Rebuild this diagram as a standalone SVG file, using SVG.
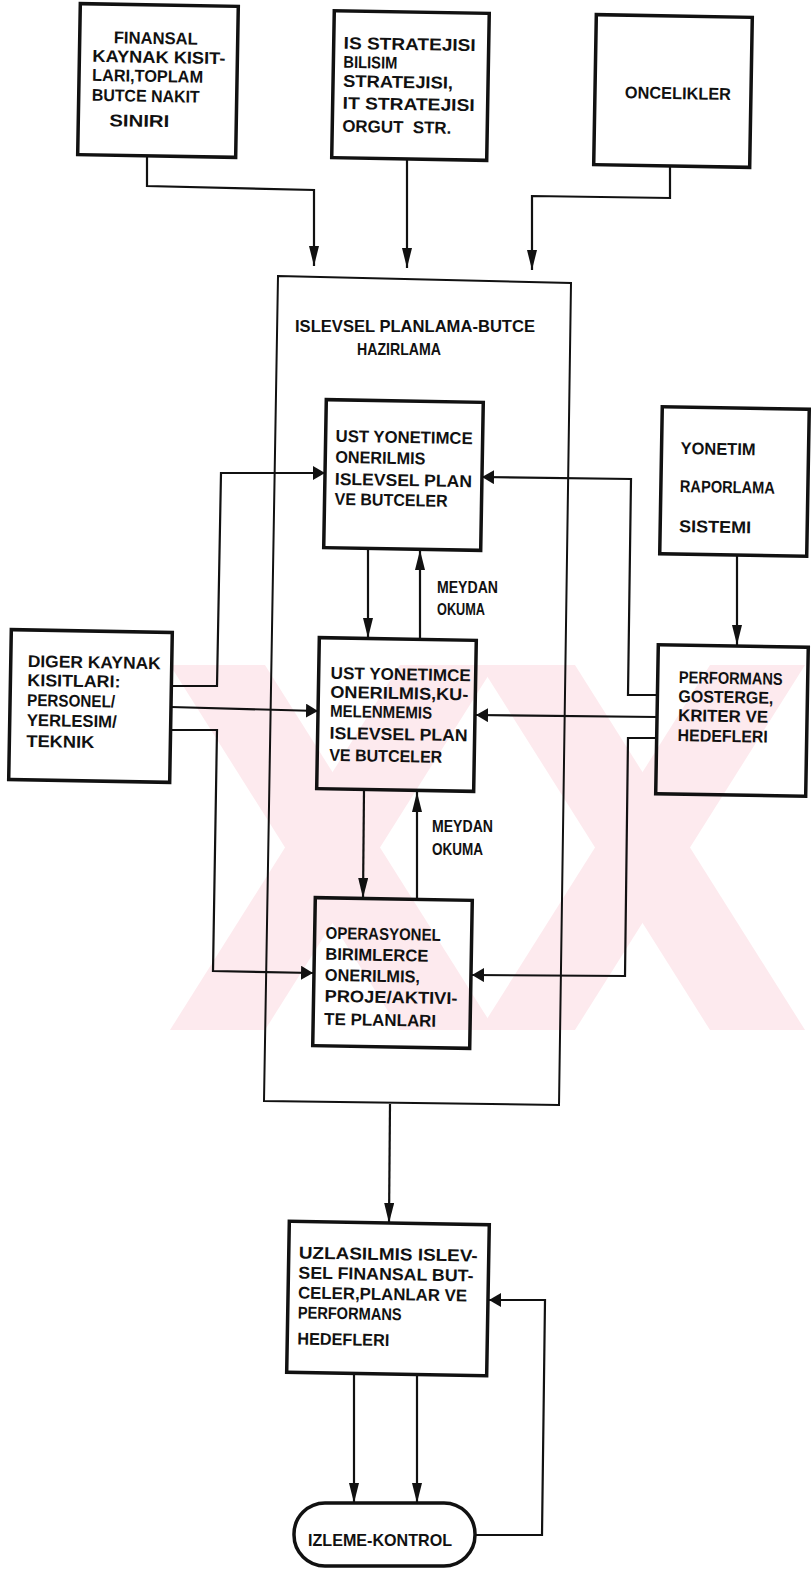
<svg xmlns="http://www.w3.org/2000/svg" width="811" height="1571" viewBox="0 0 811 1571">
<style>
.t{font-family:"Liberation Sans",Arial,sans-serif;font-weight:bold;font-size:17px;fill:#111}
.box{fill:none;stroke:#111;stroke-width:3.5}
.frame{fill:none;stroke:#111;stroke-width:2}
.c{fill:none;stroke:#111;stroke-width:2.2}
.wm{fill:#fdeaee}
</style>
<defs>
<marker id="av" viewBox="0 0 20 10" markerWidth="20" markerHeight="10" refX="20" refY="5" orient="auto" markerUnits="userSpaceOnUse"><path d="M0,0 L20,5 L0,10 Z" fill="#111"/></marker>
<marker id="ah" viewBox="0 0 12 14" markerWidth="12" markerHeight="14" refX="12" refY="7" orient="auto" markerUnits="userSpaceOnUse"><path d="M0,0 L12,7 L0,14 Z" fill="#111"/></marker>
<clipPath id="wmclip"><rect x="168" y="665" width="643" height="365"/></clipPath>
</defs>
<rect width="811" height="1571" fill="#fff"/>
<g id="watermark" clip-path="url(#wmclip)">
<polygon class="wm" points="170,665 265,665 495,1030 400,1030"/>
<polygon class="wm" points="400,665 495,665 265,1030 170,1030"/>
<polygon class="wm" points="480,665 575,665 805,1030 710,1030"/>
<polygon class="wm" points="710,665 805,665 575,1030 480,1030"/>
</g>
<g id="connectors">
<path class="c" d="M147,156 L147,186 L314,190 L314,266" marker-end="url(#av)"/>
<path class="c" d="M407,159 L407,268" marker-end="url(#av)"/>
<path class="c" d="M670,166 L670,198 L532,196 L532,270" marker-end="url(#av)"/>
<path class="c" d="M171,686 L217,686 L221,473 L325,473" marker-end="url(#ah)"/>
<path class="c" d="M171,707 L318,711" marker-end="url(#ah)"/>
<path class="c" d="M171,730 L217,730 L213,971 L313,973" marker-end="url(#ah)"/>
<path class="c" d="M657,695 L628,695 L631,479 L482,477" marker-end="url(#ah)"/>
<path class="c" d="M657,717 L476,715" marker-end="url(#ah)"/>
<path class="c" d="M657,738 L628,738 L625,976 L472,975" marker-end="url(#ah)"/>
<path class="c" d="M737,555 L737,645" marker-end="url(#av)"/>
<path class="c" d="M368,549 L368,638" marker-end="url(#av)"/>
<path class="c" d="M420,641 L420,550" marker-end="url(#av)"/>
<path class="c" d="M364,790 L363,898" marker-end="url(#av)"/>
<path class="c" d="M417,900 L417,792" marker-end="url(#av)"/>
<path class="c" d="M390,1104 L389,1223" marker-end="url(#av)"/>
<path class="c" d="M354,1375 L354,1503" marker-end="url(#av)"/>
<path class="c" d="M417,1375 L417,1503" marker-end="url(#av)"/>
<path class="c" d="M475,1535 L542,1535 L545,1300 L489,1300" marker-end="url(#ah)"/>
</g>
<g id="n-finansal" transform="rotate(1 158 80)">
<rect class="box" x="79" y="5" width="158" height="151"/>
<text class="t" x="113" y="44" textLength="84" lengthAdjust="spacingAndGlyphs">FINANSAL</text>
<text class="t" x="92" y="63" textLength="133" lengthAdjust="spacingAndGlyphs">KAYNAK KISIT-</text>
<text class="t" x="92" y="82" textLength="111" lengthAdjust="spacingAndGlyphs">LARI,TOPLAM</text>
<text class="t" x="92" y="102" textLength="108" lengthAdjust="spacingAndGlyphs">BUTCE NAKIT</text>
<text class="t" x="110" y="127" textLength="60" lengthAdjust="spacingAndGlyphs">SINIRI</text>
</g>
<g id="n-strateji" transform="rotate(1 410 85)">
<rect class="box" x="333" y="12" width="155" height="147"/>
<text class="t" x="343" y="50" textLength="132" lengthAdjust="spacingAndGlyphs">IS STRATEJISI</text>
<text class="t" x="343" y="69" textLength="54" lengthAdjust="spacingAndGlyphs">BILISIM</text>
<text class="t" x="343" y="88" textLength="110" lengthAdjust="spacingAndGlyphs">STRATEJISI,</text>
<text class="t" x="343" y="110" textLength="132" lengthAdjust="spacingAndGlyphs">IT STRATEJISI</text>
<text class="t" x="343" y="133" textLength="109" lengthAdjust="spacingAndGlyphs">ORGUT&#160;&#160;STR.</text>
</g>
<g id="n-oncelikler" transform="rotate(1 673 91)">
<rect class="box" x="595" y="16" width="156" height="150"/>
<text class="t" x="625" y="99" textLength="106" lengthAdjust="spacingAndGlyphs">ONCELIKLER</text>
</g>
<g id="n-islevsel">
<polygon class="frame" points="278,276 571,283 559,1105 264,1101"/>
<text class="t" x="295" y="332" textLength="240" lengthAdjust="spacingAndGlyphs">ISLEVSEL PLANLAMA-BUTCE</text>
<text class="t" x="357" y="355" textLength="84" lengthAdjust="spacingAndGlyphs">HAZIRLAMA</text>
</g>
<g id="n-ust1" transform="rotate(1 403 475)">
<rect class="box" x="325" y="401" width="157" height="148"/>
<text class="t" x="335" y="443" textLength="137" lengthAdjust="spacingAndGlyphs">UST YONETIMCE</text>
<text class="t" x="335" y="464" textLength="90" lengthAdjust="spacingAndGlyphs">ONERILMIS</text>
<text class="t" x="335" y="486" textLength="137" lengthAdjust="spacingAndGlyphs">ISLEVSEL PLAN</text>
<text class="t" x="335" y="506" textLength="113" lengthAdjust="spacingAndGlyphs">VE BUTCELER</text>
</g>
<g id="n-ust2" transform="rotate(1 396 714)">
<rect class="box" x="318" y="639" width="157" height="151"/>
<text class="t" x="330" y="680" textLength="140" lengthAdjust="spacingAndGlyphs">UST YONETIMCE</text>
<text class="t" x="330" y="699" textLength="138" lengthAdjust="spacingAndGlyphs">ONERILMIS,KU-</text>
<text class="t" x="330" y="718" textLength="102" lengthAdjust="spacingAndGlyphs">MELENMEMIS</text>
<text class="t" x="330" y="740" textLength="138" lengthAdjust="spacingAndGlyphs">ISLEVSEL PLAN</text>
<text class="t" x="330" y="762" textLength="113" lengthAdjust="spacingAndGlyphs">VE BUTCELER</text>
</g>
<g id="n-operasyonel" transform="rotate(1 392 973)">
<rect class="box" x="314" y="899" width="157" height="148"/>
<text class="t" x="325" y="940" textLength="115" lengthAdjust="spacingAndGlyphs">OPERASYONEL</text>
<text class="t" x="325" y="961" textLength="103" lengthAdjust="spacingAndGlyphs">BIRIMLERCE</text>
<text class="t" x="325" y="982" textLength="95" lengthAdjust="spacingAndGlyphs">ONERILMIS,</text>
<text class="t" x="325" y="1003" textLength="133" lengthAdjust="spacingAndGlyphs">PROJE/AKTIVI-</text>
<text class="t" x="325" y="1026" textLength="112" lengthAdjust="spacingAndGlyphs">TE PLANLARI</text>
</g>
<g id="lbl-meydan1">
<text class="t" x="437" y="593" textLength="61" lengthAdjust="spacingAndGlyphs">MEYDAN</text>
<text class="t" x="437" y="615" textLength="48" lengthAdjust="spacingAndGlyphs">OKUMA</text>
</g>
<g id="lbl-meydan2">
<text class="t" x="432" y="832" textLength="61" lengthAdjust="spacingAndGlyphs">MEYDAN</text>
<text class="t" x="432" y="855" textLength="51" lengthAdjust="spacingAndGlyphs">OKUMA</text>
</g>
<g id="n-diger" transform="rotate(1 90 706)">
<rect class="box" x="10" y="631" width="161" height="150"/>
<text class="t" x="27" y="668" textLength="133" lengthAdjust="spacingAndGlyphs">DIGER KAYNAK</text>
<text class="t" x="27" y="687" textLength="93" lengthAdjust="spacingAndGlyphs">KISITLARI:</text>
<text class="t" x="27" y="707" textLength="88" lengthAdjust="spacingAndGlyphs">PERSONEL/</text>
<text class="t" x="27" y="727" textLength="90" lengthAdjust="spacingAndGlyphs">YERLESIM/</text>
<text class="t" x="27" y="748" textLength="68" lengthAdjust="spacingAndGlyphs">TEKNIK</text>
</g>
<g id="n-yonetim" transform="rotate(1 735 481)">
<rect class="box" x="661" y="408" width="147" height="147"/>
<text class="t" x="680" y="455" textLength="75" lengthAdjust="spacingAndGlyphs">YONETIM</text>
<text class="t" x="680" y="493" textLength="95" lengthAdjust="spacingAndGlyphs">RAPORLAMA</text>
<text class="t" x="680" y="533" textLength="72" lengthAdjust="spacingAndGlyphs">SISTEMI</text>
</g>
<g id="n-performans" transform="rotate(1 732 720)">
<rect class="box" x="657" y="646" width="150" height="149"/>
<text class="t" x="678" y="684" textLength="104" lengthAdjust="spacingAndGlyphs">PERFORMANS</text>
<text class="t" x="678" y="703" textLength="95" lengthAdjust="spacingAndGlyphs">GOSTERGE,</text>
<text class="t" x="678" y="722" textLength="90" lengthAdjust="spacingAndGlyphs">KRITER VE</text>
<text class="t" x="678" y="742" textLength="90" lengthAdjust="spacingAndGlyphs">HEDEFLERI</text>
</g>
<g id="n-uzlasilmis" transform="rotate(1 388 1298)">
<rect class="box" x="288" y="1223" width="200" height="151"/>
<text class="t" x="298" y="1260" textLength="179" lengthAdjust="spacingAndGlyphs">UZLASILMIS ISLEV-</text>
<text class="t" x="298" y="1280" textLength="175" lengthAdjust="spacingAndGlyphs">SEL FINANSAL BUT-</text>
<text class="t" x="298" y="1300" textLength="169" lengthAdjust="spacingAndGlyphs">CELER,PLANLAR VE</text>
<text class="t" x="298" y="1320" textLength="104" lengthAdjust="spacingAndGlyphs">PERFORMANS</text>
<text class="t" x="298" y="1346" textLength="92" lengthAdjust="spacingAndGlyphs">HEDEFLERI</text>
</g>
<g id="n-izleme">
<rect class="box" x="294" y="1503" width="181" height="63" rx="31" ry="31" fill="#fff"/>
<text class="t" x="308" y="1546" textLength="144" lengthAdjust="spacingAndGlyphs">IZLEME-KONTROL</text>
</g>
</svg>
